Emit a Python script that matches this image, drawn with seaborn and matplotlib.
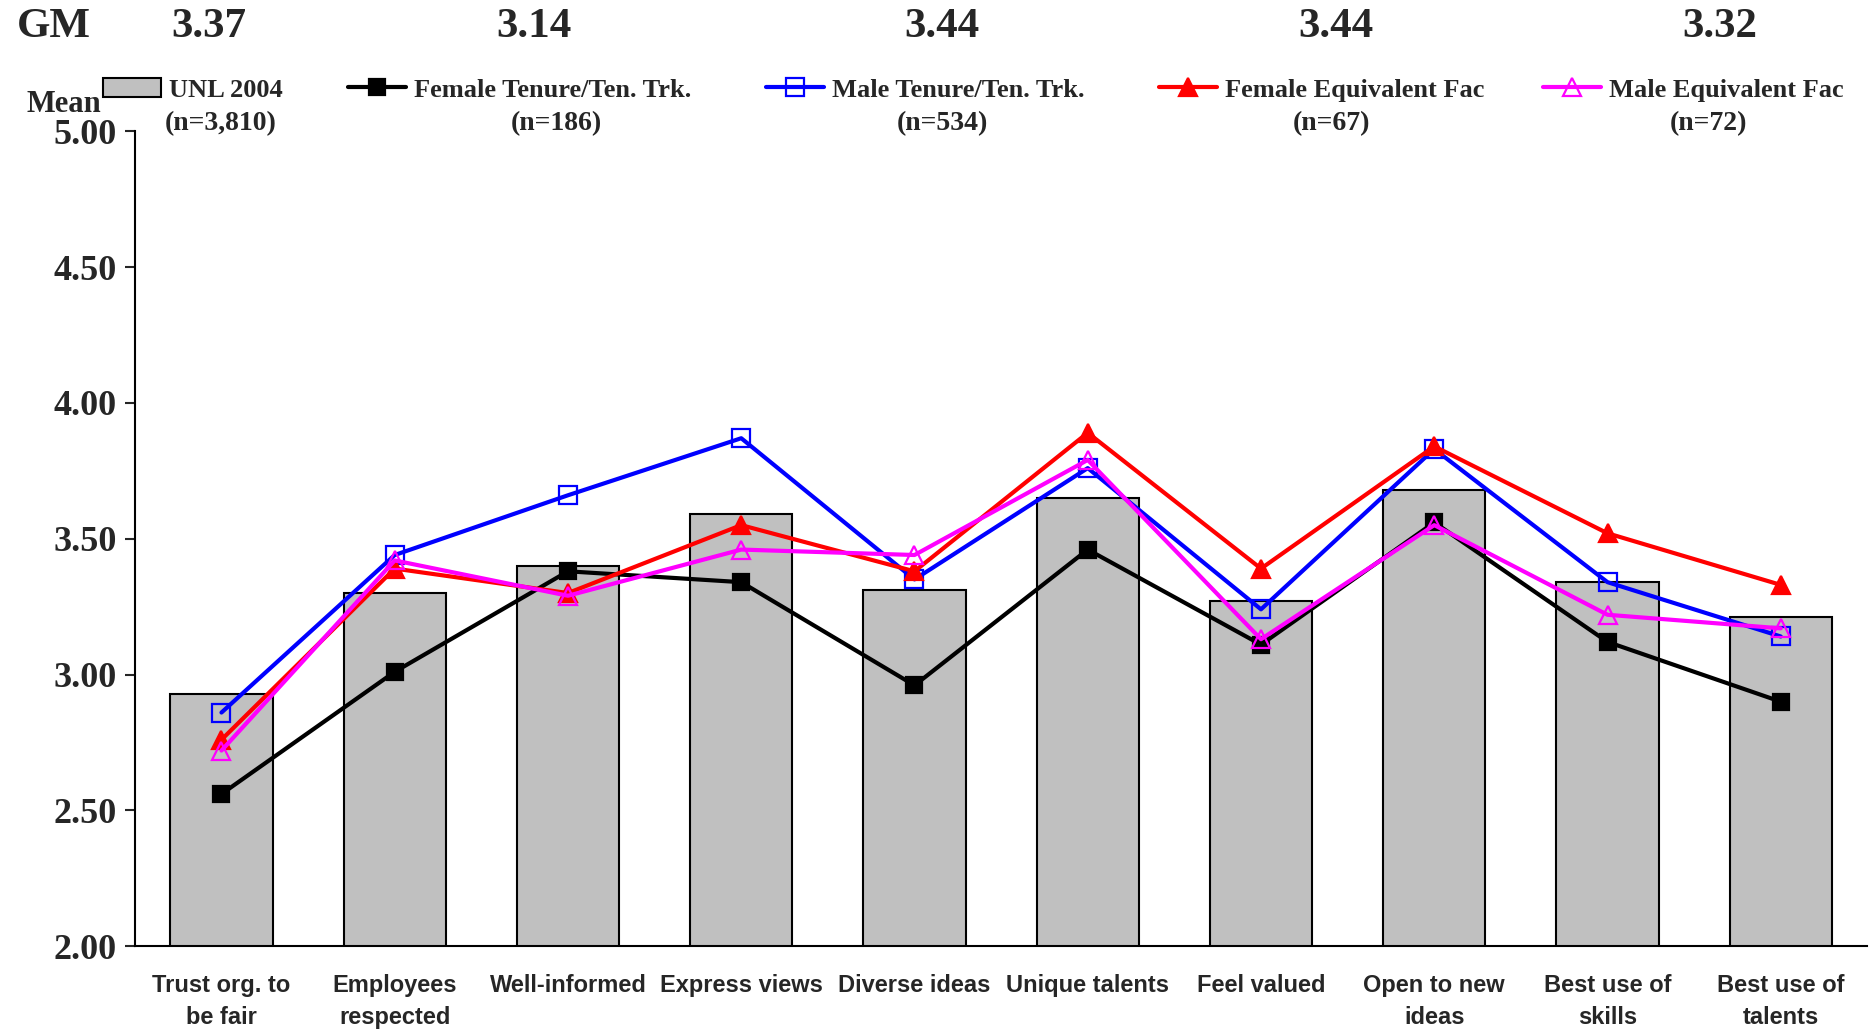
import matplotlib
matplotlib.use("Agg")
import matplotlib.pyplot as plt
from matplotlib import font_manager
from matplotlib.patches import Patch
from matplotlib.lines import Line2D
import seaborn as sns
import pandas as pd

categories = ["Trust org. to\nbe fair", "Employees\nrespected", "Well-informed",
              "Express views", "Diverse ideas", "Unique talents", "Feel valued",
              "Open to new\nideas", "Best use of\nskills", "Best use of\ntalents"]

unl_2004 = [2.93, 3.30, 3.40, 3.59, 3.31, 3.65, 3.27, 3.68, 3.34, 3.21]
female_tenure = [2.56, 3.01, 3.38, 3.34, 2.96, 3.46, 3.11, 3.56, 3.12, 2.90]
male_tenure = [2.86, 3.44, 3.66, 3.87, 3.35, 3.76, 3.24, 3.83, 3.34, 3.14]
female_equiv = [2.76, 3.39, 3.30, 3.55, 3.38, 3.89, 3.39, 3.84, 3.52, 3.33]
male_equiv = [2.72, 3.42, 3.29, 3.46, 3.44, 3.79, 3.13, 3.55, 3.22, 3.17]

series_names = ["UNL 2004", "Female Tenure/Ten. Trk.", "Male Tenure/Ten. Trk.",
                "Female Equivalent Fac", "Male Equivalent Fac"]
series_n = ["(n=3,810)", "(n=186)", "(n=534)", "(n=67)", "(n=72)"]
grand_means = ["3.37", "3.14", "3.44", "3.44", "3.32"]
y_ticks = [2.00, 2.50, 3.00, 3.50, 4.00, 4.50, 5.00]

df = pd.DataFrame({"item": categories, "unl": unl_2004})

sns.set_style("white")
serif = ["Liberation Serif", "DejaVu Serif"]
installed = {f.name for f in font_manager.fontManager.ttflist}
if "Liberation Sans Narrow" in installed:
    xfont, xsize = "Liberation Sans Narrow", 20
else:
    xfont, xsize = "Liberation Sans", 17

fig = plt.figure(figsize=(18.73, 10.34), dpi=100)
ax = fig.add_axes([0.072, 0.085, 0.925, 0.788])

# bars
sns.barplot(data=df, x="item", y="unl", color="#C0C0C0", edgecolor="black",
            linewidth=1.5, width=0.59, saturation=1, ax=ax)

# lines
line_specs = [
    (female_tenure, "black", "s", "black", 11),
    (male_tenure, "blue", "s", "none", 13),
    (female_equiv, "red", "^", "red", 13),
    (male_equiv, "magenta", "^", "none", 13),
]
for vals, col, mk, face, ms in line_specs:
    sns.pointplot(x=categories, y=vals, color=col, markers=mk, linestyles="-",
                  errorbar=None, ax=ax, linewidth=3.0, markersize=ms,
                  markerfacecolor=face, markeredgecolor=col, markeredgewidth=1.6)

ax.set_xlim(-0.5, 9.5)
ax.set_ylim(2.0, 5.0)
ax.set_yticks(y_ticks)
ax.set_yticklabels([f"{v:.2f}" for v in y_ticks], fontfamily=serif,
                   fontweight="bold", fontsize=26)
ax.set_xlabel("")
ax.set_ylabel("")
ax.set_xticks(range(len(categories)))
ax.set_xticklabels(categories, fontfamily=xfont, fontweight="bold",
                   fontsize=xsize, linespacing=1.5)
ax.set_xticks([i - 0.5 for i in range(len(categories) + 1)], minor=True)
ax.tick_params(axis="x", which="major", length=0, pad=20)
ax.tick_params(axis="x", which="minor", length=9, width=1.5, direction="out")
ax.tick_params(axis="y", length=7, width=1.5, direction="out", left=True, pad=6)
for s in ["top", "right"]:
    ax.spines[s].set_visible(False)
for s in ["left", "bottom"]:
    ax.spines[s].set_color("black")
    ax.spines[s].set_linewidth(1.5)

# header: GM, legend, n
fig.text(0.029, 0.974, "GM", ha="center", va="center", fontfamily=serif,
         fontweight="bold", fontsize=31)
gm_x = [0.1116, 0.285, 0.503, 0.713, 0.918]
for x, g in zip(gm_x, grand_means):
    fig.text(x, 0.974, g, ha="center", va="center", fontfamily=serif,
             fontweight="bold", fontsize=31)

handles = [Patch(facecolor="#C0C0C0", edgecolor="black", linewidth=1.5)]
for vals, col, mk, face, ms in line_specs:
    handles.append(Line2D([], [], color=col, marker=mk, markerfacecolor=face,
                          markeredgecolor=col, linewidth=3.0, markersize=ms,
                          markeredgewidth=1.6))
leg_x = [0.055, 0.186, 0.409, 0.619, 0.824]
for x, h, name in zip(leg_x, handles, series_names):
    fig.legend([h], [name], loc="center left", bbox_to_anchor=(x, 0.913),
               frameon=False, handlelength=2.2, handletextpad=0.3,
               borderpad=0, borderaxespad=0,
               prop={"family": serif, "weight": "bold", "size": 19})

n_x = [0.118, 0.297, 0.503, 0.711, 0.912]
for x, n in zip(n_x, series_n):
    fig.text(x, 0.880, n, ha="center", va="center", fontfamily=serif,
             fontweight="bold", fontsize=20)

fig.text(0.034, 0.899, "Mean", ha="center", va="center", fontfamily=serif,
         fontweight="bold", fontsize=22)

fig.savefig("out.png", dpi=100)
